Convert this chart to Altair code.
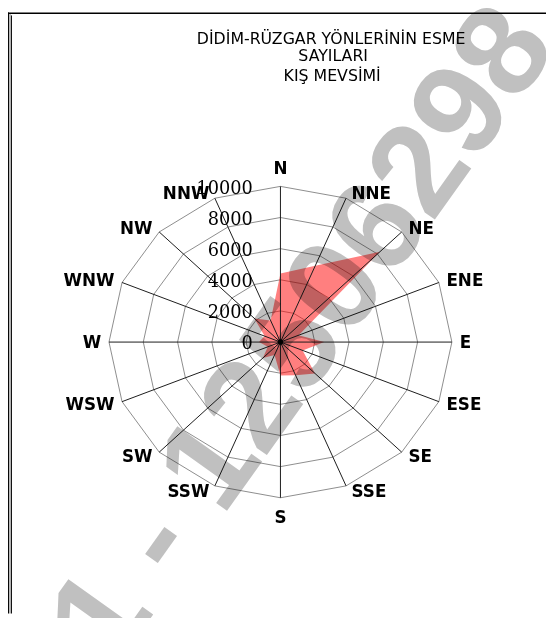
import altair as alt
import pandas as pd

# ---- data ----
directions = ["N", "NNE", "NE", "ENE", "E", "ESE", "SE", "SSE",
              "S", "SSW", "SW", "WSW", "W", "WNW", "NW", "NNW"]
values = [4400, 5300, 8200, 1150, 2550, 1400, 2850, 2300,
          2150, 900, 1450, 800, 1250, 1000, 2150, 1500]
ring_levels = [2000, 4000, 6000, 8000, 10000]
tick_values = [0, 2000, 4000, 6000, 8000, 10000]
tick_labels = ["0", "2000", "4000", "6000", "8000", "10000"]
title_lines = ["DİDİM-RÜZGAR YÖNLERİNİN ESME", "SAYILARI", "KIŞ MEVSİMİ"]
watermark_text = "1 - 12506298"

idx = list(range(len(directions)))
wind = pd.DataFrame({"dir": directions, "value": values, "idx": idx})
rings = pd.DataFrame([{"level": L, "idx": i} for L in ring_levels for i in idx])
spokes = pd.DataFrame({"dir": directions, "idx": idx, "level": [10000] * len(idx)})
ticks = pd.DataFrame({"label": tick_labels, "value": tick_values})
one = pd.DataFrame({"a": [0]})

W, H = 546, 610
CX, CY = 276.5, 334.5
RX, RY = 174, 158
XS = alt.Scale(domain=[-10000, 10000], range=[CX - RX, CX + RX], nice=False, zero=False)
YS = alt.Scale(domain=[-10000, 10000], range=[CY + RY, CY - RY], nice=False, zero=False)

def xy(ch, field_x, field_y):
    return ch.encode(
        x=alt.X(f"{field_x}:Q", scale=XS, axis=None),
        y=alt.Y(f"{field_y}:Q", scale=YS, axis=None),
    )

theta = "datum.idx * PI / 8"

# frame
frame_top = alt.Chart(one).mark_rule(color="#000", strokeWidth=1.5).encode(
    x=alt.value(0), x2=alt.value(W), y=alt.value(0.75))
frame_left = alt.Chart(one).mark_rule(color="#000", strokeWidth=1).encode(
    x=alt.value(0.5), y=alt.value(0), y2=alt.value(H))
frame_left2 = alt.Chart(one).mark_rule(color="#000", strokeWidth=1).encode(
    x=alt.value(3.5), y=alt.value(3), y2=alt.value(H))
frame_mid = alt.Chart(one).mark_rule(color="#bbb", strokeWidth=2).encode(
    x=alt.value(2), y=alt.value(1.5), y2=alt.value(H))

ring_layer = xy(
    alt.Chart(rings).transform_calculate(
        px=f"datum.level * sin({theta})", py=f"datum.level * cos({theta})"
    ).mark_line(interpolate="linear-closed", stroke="#8c8c8c", strokeWidth=1),
    "px", "py",
).encode(detail="level:N", order="idx:Q")

fill_layer = xy(
    alt.Chart(wind).transform_calculate(
        px=f"datum.value * sin({theta})", py=f"datum.value * cos({theta})"
    ).mark_line(interpolate="linear-closed", fill="#ff0000", fillOpacity=0.5,
                stroke="#ff0000", strokeOpacity=0, strokeWidth=0),
    "px", "py",
).encode(order="idx:Q")

spoke_layer = alt.Chart(spokes).transform_calculate(
    zero="0",
    ex=f"datum.level * sin({theta})", ey=f"datum.level * cos({theta})",
).mark_rule(color="#1a1a1a", strokeWidth=1).encode(
    x=alt.X("zero:Q", scale=XS, axis=None),
    y=alt.Y("zero:Q", scale=YS, axis=None),
    x2="ex:Q", y2="ey:Q",
)

center_dot = alt.Chart(one).mark_circle(color="#000", size=30, opacity=1).encode(
    x=alt.X("a:Q", scale=XS, axis=None), y=alt.Y("a:Q", scale=YS, axis=None))

tick_layer = alt.Chart(ticks).transform_calculate(zero="0").mark_text(
    align="right", baseline="middle", font="DejaVu Serif", fontSize=18,
    color="#000", dx=-28, dy=2.5,
).encode(
    x=alt.X("zero:Q", scale=XS, axis=None),
    y=alt.Y("value:Q", scale=YS, axis=None),
    text="label:N",
)

UX = 10000 / RX
UY = 10000 / RY

def dir_labels(filter_expr, align, lx, ly):
    return alt.Chart(wind).transform_calculate(
        s=f"sin({theta})", c=f"cos({theta})"
    ).transform_filter(filter_expr).transform_calculate(
        lx=lx, ly=ly
    ).mark_text(
        align=align, baseline="middle", font="DejaVu Sans", fontWeight="bold",
        fontSize=17, color="#000",
    ).encode(
        x=alt.X("lx:Q", scale=XS, axis=None),
        y=alt.Y("ly:Q", scale=YS, axis=None),
        text="dir:N",
    )

side_ly = f"datum.c * (10000 + {6 * UY}) - {1 * UY}"
lab_right = dir_labels("datum.idx > 0 && datum.idx < 8", "left",
                       f"datum.s * 10000 + (4 + 4 * abs(datum.s)) * {UX}", side_ly)
lab_left = dir_labels("datum.idx > 8", "right",
                      f"datum.s * 10000 - (4 + 4 * abs(datum.s)) * {UX}", side_ly)
lab_ns = dir_labels("datum.idx == 0 || datum.idx == 8", "center",
                    "0", f"datum.c * (10000 + {19.5 * UY}) - {1.5 * UY}")

title_font = dict(font="DejaVu Sans", fontSize=16, color="#000", align="center",
                  baseline="alphabetic")
t1 = alt.Chart(one).mark_text(text=title_lines[0], **title_font).encode(
    x=alt.value(328), y=alt.value(32))
t2 = alt.Chart(one).mark_text(text=title_lines[1], **title_font).encode(
    x=alt.value(330), y=alt.value(49.5))
t3 = alt.Chart(one).mark_text(text=title_lines[2], **title_font).encode(
    x=alt.value(329), y=alt.value(69.3))

wm = alt.Chart(one).mark_text(
    text=watermark_text, font="Liberation Sans", fontWeight="bold", fontSize=132,
    angle=305.5, color="#c0c0c0", blend="multiply", align="center", baseline="middle",
).encode(x=alt.value(300), y=alt.value(328))

chart = alt.layer(
    frame_mid, frame_top, frame_left, frame_left2,
    ring_layer, fill_layer, spoke_layer, center_dot, tick_layer,
    lab_right, lab_left, lab_ns, t1, t2, t3, wm,
).properties(
    width=W, height=H, autosize=alt.AutoSizeParams(type="none"), padding=0,
).configure_view(strokeWidth=0)

chart.save("out.html", embed_options={"renderer": "svg", "actions": False})
